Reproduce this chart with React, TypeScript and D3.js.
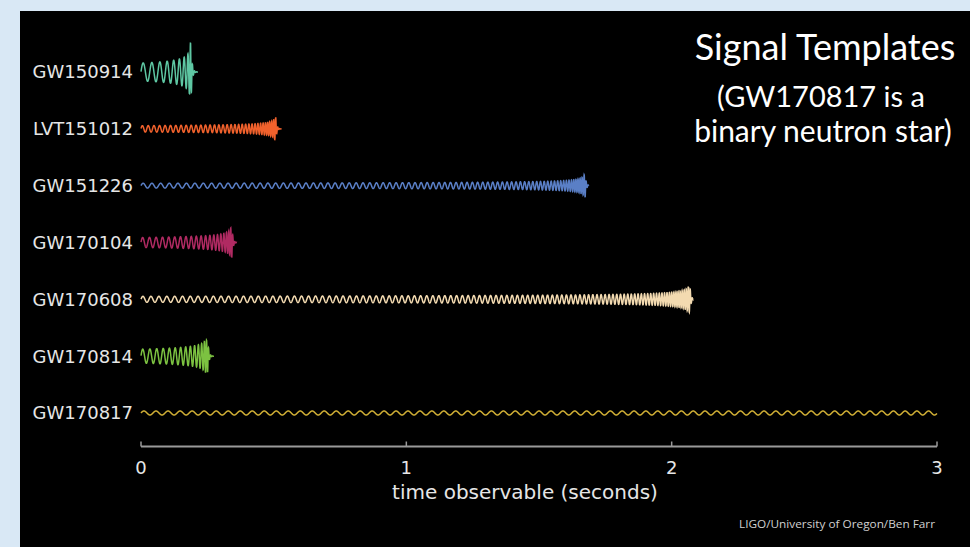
import React from "react";
import * as d3 from "d3";

// events, top to bottom
const events = ["GW150914", "LVT151012", "GW151226", "GW170104", "GW170608", "GW170814", "GW170817"];
// merger time of each template (seconds after start of the observable window)
const mergerTimes = [0.188, 0.508, 1.674, 0.343, 2.069, 0.252, 40];
// where the drawn template stops (s)
const endTimes = [0.215, 0.530, 1.688, 0.362, 2.082, 0.275, 3.0];
// early / peak strain amplitude (arbitrary units)
const startAmps = [9, 3.2, 2.4, 5, 3, 7, 2];
const peakAmps = [33, 11.5, 11.5, 15, 13, 16, 2];
// display frequency at t = 0 (cycles per second)
const startFreqs = [29, 45, 30, 38, 33, 36, 22];
const colors = ["#5ec7a3", "#f0612c", "#5a7fc6", "#b02a62", "#f3dab0", "#7cc241", "#cfae35"];

const xTicks = [0, 1, 2, 3];

const W = 970;
const H = 547;

function template(i: number) {
  const tc = mergerTimes[i];
  const tEnd = endTimes[i];
  const a0 = startAmps[i];
  const ap = peakAmps[i];
  const f0 = startFreqs[i];
  const fMax = 130;
  const dt = 0.0003;
  const pts: [number, number][] = [];
  let phase = 0;
  for (let t = 0; t <= tEnd + 1e-9; t += dt) {
    let f: number, a: number;
    if (t < tc) {
      const r = tc / (tc - t);
      f = Math.min(fMax, f0 * Math.pow(r, 3 / 8));
      a = Math.min(ap, a0 * Math.pow(r, 1 / 4));
    } else {
      f = fMax;
      a = ap * Math.exp(-(t - tc) / 0.004);
    }
    phase += f * dt;
    pts.push([t, a * Math.sin(2 * Math.PI * phase)]);
  }
  return pts;
}

export default function App() {
  const x = d3.scaleLinear().domain([0, 3]).range([141, 937]);
  const row = d3.scalePoint<string>().domain(events).range([72, 413]);
  const amp = d3.scaleLinear().domain([-1, 1]).range([1, -1]);

  const axisY = 446.5;
  const labelFont = "'DejaVu Sans', sans-serif";

  return (
    <svg width={W} height={H} style={{ position: "absolute", left: 0, top: 0 }}>
      <rect x={0} y={0} width={W} height={H} fill="#d9e8f5" />
      <rect x={20} y={11} width={W - 20} height={H - 11} fill="#000" />

      {events.map((name, i) => {
        const cy = row(name) as number;
        const line = d3
          .line<[number, number]>()
          .x((d) => x(d[0]))
          .y((d) => cy + amp(d[1]));
        return (
          <g key={name}>
            <text
              x={133}
              y={cy}
              dy="0.36em"
              textAnchor="end"
              fill="#e6e6e6"
              fontSize={18}
              fontFamily={labelFont}
            >
              {name}
            </text>
            <path d={line(template(i)) || ""} fill="none" stroke={colors[i]} strokeWidth={1.5} />
          </g>
        );
      })}

      <g>
        <line x1={x(0)} x2={x(3)} y1={axisY} y2={axisY} stroke="#9a9a9a" strokeWidth={1.8} />
        {xTicks.map((t) => (
          <g key={t}>
            <line x1={x(t)} x2={x(t)} y1={axisY} y2={axisY - 5} stroke="#9a9a9a" strokeWidth={1.5} />
            <text
              x={x(t)}
              y={474}
              textAnchor="middle"
              fill="#e6e6e6"
              fontSize={18}
              fontFamily={labelFont}
            >
              {t}
            </text>
          </g>
        ))}
        <text
          x={525}
          y={499}
          textAnchor="middle"
          fill="#e6e6e6"
          fontSize={20}
          fontFamily={labelFont}
        >
          time observable (seconds)
        </text>
      </g>

      <text
        x={935}
        y={528}
        textAnchor="end"
        fill="#d0d0d0"
        fontSize={10.5}
        fontFamily="'Open Sans', sans-serif"
        textLength={196}
        lengthAdjust="spacingAndGlyphs"
      >
        LIGO/University of Oregon/Ben Farr
      </text>

      <g fill="#ffffff" fontFamily="Lato, sans-serif" textAnchor="middle">
        <text x={825} y={60} fontSize={36}>Signal Templates</text>
        <text x={821} y={107} fontSize={29}>(GW170817 is a</text>
        <text x={823} y={142} fontSize={30}>binary neutron star)</text>
      </g>
    </svg>
  );
}
